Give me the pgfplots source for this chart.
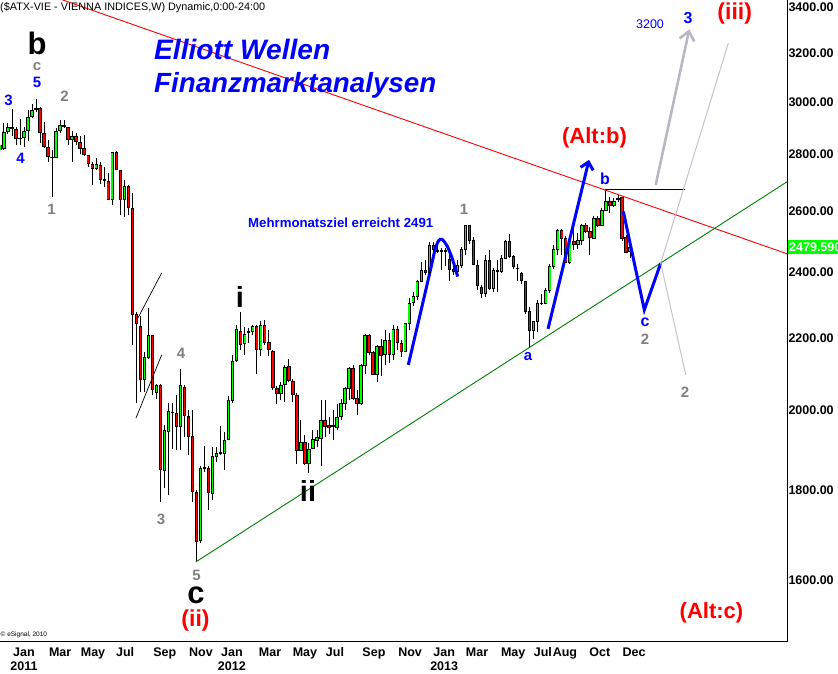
\documentclass[border=0pt]{standalone}
\usepackage{fontspec}
\setmainfont{Liberation Sans}
\usepackage{pgfplots}
\usepackage{pgfplotstable}
\pgfplotsset{compat=1.18}
\usetikzlibrary{arrows.meta}
\definecolor{eblue}{RGB}{0,0,255}
\definecolor{ered}{RGB}{255,0,0}
\definecolor{egrey}{RGB}{128,128,128}
\definecolor{cgreen}{RGB}{0,255,0}
\definecolor{cred}{RGB}{255,0,0}
\definecolor{tgreen}{RGB}{0,128,0}
\definecolor{lgrey}{RGB}{200,192,210}
\definecolor{agrey}{RGB}{188,182,196}
\newcommand\fs[1]{\fontsize{#1}{#1}\selectfont}
\pgfplotstableread{
w o h l c
-6 2818 2848 2810 2836
-5 2824 2918 2818 2884
-4 2889 2918 2877 2903
-3 2900 2974 2871 2902
-2 2896 2905 2836 2862
-1 2862 2934 2836 2863
0 2864 2905 2830 2889
1 2890 2970 2852 2940
2 2944 2992 2938 2970
3 2973 3012 2963 2975
4 2977 2980 2842 2884
5 2880 2922 2826 2830
6 2827 2855 2775 2793
7 2790 2818 2650 2792
8 2791 2900 2790 2889
9 2890 2931 2880 2911
10 2908 2931 2900 2910
11 2903 2905 2836 2858
12 2858 2887 2775 2869
13 2869 2880 2836 2851
14 2846 2871 2801 2824
15 2822 2873 2796 2801
16 2797 2799 2756 2768
17 2766 2775 2691 2750
18 2750 2787 2745 2765
19 2762 2775 2694 2711
20 2710 2756 2685 2708
21 2705 2733 2638 2641
22 2641 2811 2621 2808
23 2808 2813 2745 2745
24 2742 2745 2587 2641
25 2641 2709 2578 2687
26 2687 2690 2587 2611
27 2609 2664 2180 2271
28 2271 2275 2020 2243
29 2235 2263 2050 2084
30 2084 2161 2050 2144
31 2145 2288 2140 2207
32 2207 2209 2040 2055
33 2047 2070 2030 2066
34 2066 2070 1774 1851
35 1849 1962 1805 1949
36 1945 2020 1789 1997
37 1995 2020 1900 1996
38 1993 2041 1899 1958
39 1958 2111 1899 2066
40 2062 2068 1932 1988
41 1985 2001 1886 1934
42 1934 2001 1774 1797
43 1795 1800 1639 1683
44 1685 1859 1680 1853
45 1854 1909 1845 1856
46 1853 1859 1754 1795
47 1793 1907 1778 1882
48 1882 1907 1870 1890
49 1890 1960 1886 1892
50 1891 1945 1849 1924
51 1926 2038 1924 2026
52 2027 2150 2020 2134
53 2136 2237 2131 2225
54 2220 2277 2166 2182
55 2184 2233 2152 2210
56 2216 2230 2185 2218
57 2220 2239 2210 2234
58 2234 2239 2097 2166
59 2166 2250 2148 2236
60 2236 2252 2181 2188
61 2186 2223 2148 2166
62 2163 2166 2055 2063
63 2059 2064 2018 2045
64 2045 2077 2027 2068
65 2070 2122 2022 2118
66 2120 2140 2075 2080
67 2077 2084 2022 2043
68 2040 2045 1864 1897
69 1897 1975 1895 1919
70 1919 1937 1862 1866
71 1866 1915 1841 1900
72 1903 1949 1900 1926
73 1924 1949 1905 1930
74 1928 2028 1859 1975
75 1975 2028 1932 1959
76 1960 1983 1940 1957
77 1958 2001 1924 1960
78 1957 2018 1949 1983
79 1985 2030 1975 2018
80 2020 2063 2001 2060
81 2060 2118 2028 2113
82 2113 2122 2028 2032
83 2032 2055 1988 2019
84 2019 2125 2015 2122
85 2122 2211 2099 2209
86 2209 2212 2150 2160
87 2159 2162 2094 2096
88 2096 2181 2077 2176
89 2176 2197 2093 2150
90 2152 2223 2122 2194
91 2194 2215 2130 2152
92 2152 2237 2137 2225
93 2225 2235 2166 2186
94 2184 2194 2145 2163
95 2163 2244 2162 2243
96 2243 2319 2223 2303
97 2305 2337 2294 2324
98 2324 2375 2313 2370
99 2370 2430 2368 2404
100 2404 2438 2390 2398
101 2400 2497 2397 2485
102 2485 2497 2438 2472
103 2470 2490 2460 2466
104 2467 2477 2406 2468
105 2466 2475 2420 2470
106 2440 2454 2372 2408
107 2408 2422 2390 2401
108 2401 2438 2390 2422
109 2422 2480 2412 2472
110 2472 2553 2454 2551
111 2551 2553 2490 2502
112 2502 2513 2422 2425
113 2422 2438 2344 2357
114 2353 2360 2320 2332
115 2332 2454 2322 2438
116 2438 2470 2344 2350
117 2350 2413 2338 2406
118 2404 2438 2338 2403
119 2401 2455 2395 2443
120 2443 2503 2440 2499
121 2499 2522 2443 2448
122 2448 2454 2410 2419
123 2412 2425 2370 2410
124 2395 2400 2363 2372
125 2370 2372 2270 2277
126 2277 2290 2172 2223
127 2223 2250 2197 2248
128 2248 2313 2218 2303
129 2303 2332 2298 2304
130 2303 2350 2300 2341
131 2341 2425 2335 2417
132 2417 2485 2410 2473
133 2473 2540 2455 2536
134 2536 2540 2455 2508
135 2508 2515 2428 2430
136 2430 2503 2425 2497
137 2497 2545 2470 2488
138 2488 2527 2473 2503
139 2503 2557 2485 2551
140 2551 2559 2525 2533
141 2531 2545 2455 2513
142 2508 2582 2505 2575
143 2575 2582 2545 2551
144 2551 2610 2548 2604
145 2604 2673 2600 2635
146 2635 2650 2593 2621
147 2621 2645 2615 2635
148 2640 2655 2632 2643
149 2646 2650 2500 2508
150 2510 2520 2460 2463
151 2465 2490 2443 2479.59
}\candles
\begin{document}
\begin{tikzpicture}
\useasboundingbox (0,0) rectangle (838pt,673pt);
\begin{axis}[
  at={(0pt,31.3pt)}, anchor=south west, scale only axis,
  width=787.3pt, height=641.7pt,
  xmin=-5.98, xmax=190.2,
  ymode=log, ymin=1475.2, ymax=3432.8,
  axis x line*=bottom, axis y line*=right,
  axis line style={black, line width=1pt, -},
  xtick={0,9,17.2,25.2,35.1,44.1,51.8,61.3,70,77.5,87.2,96.2,104.7,112.9,121.9,129.3,134.8,143.5,152},
  xticklabels={{Jan\\2011},Mar,May,Jul,Sep,Nov,{Jan\\2012},Mar,May,Jul,Sep,Nov,{Jan\\2013},Mar,May,Jul,Aug,Oct,Dec},
  ytick={1600,1800,2000,2200,2400,2600,2800,3000,3200,3400},
  yticklabels={1600.00,1800.00,2000.00,2200.00,2400.00,2600.00,2800.00,3000.00,3200.00,3400.00},
  tick style={draw=none},
  x tick label style={font=\fontsize{12.5}{14.5}\selectfont\bfseries, align=center, anchor=north, inner sep=0pt, yshift=-6pt},
  y tick label style={font=\fs{12.5}\bfseries, anchor=west, inner sep=0pt, xshift=1pt},
  clip=true,
]
% wicks
\addplot[draw=none, mark=none, forget plot,
  error bars/.cd, y dir=plus, y explicit, error mark=none,
  error bar style={draw=black, line width=0.9pt, solid}]
  table[x=w, y=l, y error expr=\thisrow{h}-\thisrow{l}] {\candles};
% bodies: black frame
\addplot[draw=none, mark=none, forget plot,
  x filter/.expression={\thisrow{c}>=\thisrow{o} ? x : nan},
  error bars/.cd, y dir=plus, y explicit, error mark=none,
  error bar style={draw=black, line width=3.4pt, solid, line cap=butt}]
  table[x=w, y=o, y error expr=\thisrow{c}-\thisrow{o}] {\candles};
\addplot[draw=none, mark=none, forget plot,
  x filter/.expression={\thisrow{c}<\thisrow{o} ? x : nan},
  error bars/.cd, y dir=plus, y explicit, error mark=none,
  error bar style={draw=black, line width=3.4pt, solid, line cap=butt}]
  table[x=w, y=c, y error expr=\thisrow{o}-\thisrow{c}] {\candles};
% bodies: colour
\addplot[draw=none, mark=none, forget plot,
  x filter/.expression={\thisrow{c}>=\thisrow{o} ? x : nan},
  error bars/.cd, y dir=plus, y explicit, error mark=none,
  error bar style={draw=cgreen, line width=1.6pt, solid, line cap=butt}]
  table[x=w, y=o, y error expr=\thisrow{c}-\thisrow{o}] {\candles};
\addplot[draw=none, mark=none, forget plot,
  x filter/.expression={\thisrow{c}<\thisrow{o} ? x : nan},
  error bars/.cd, y dir=plus, y explicit, error mark=none,
  error bar style={draw=cred, line width=1.6pt, solid, line cap=butt}]
  table[x=w, y=c, y error expr=\thisrow{o}-\thisrow{c}] {\candles};
% open / close caps
\addplot[only marks, mark=-, mark size=1.7pt, mark options={draw=black, line width=0.6pt}, forget plot]
  table[x=w, y=o] {\candles};
\addplot[only marks, mark=-, mark size=1.7pt, mark options={draw=black, line width=0.6pt}, forget plot]
  table[x=w, y=c] {\candles};
% trend lines
\addplot[ered, line width=0.9pt, forget plot] coordinates {(-5.98,3533.6) (190.2,2457.3)};
\addplot[tgreen, line width=0.9pt, forget plot] coordinates {(42.86,1638.7) (190.2,2702.6)};
\addplot[black, line width=0.7pt, forget plot] coordinates {(27.91,1980.3) (34.31,2151.6)};
\addplot[black, line width=0.7pt, forget plot] coordinates {(28.41,2258.9) (34.31,2396.7)};
\addplot[black, line width=1pt, forget plot] coordinates {(144.78,2675.8) (164.71,2675.8)};
% blue wave paths
\addplot[eblue, line width=3pt, smooth, forget plot] coordinates {
  (95.76,2123.4) (98.68,2267.9) (101.17,2399.9) (102.42,2470.3) (103.3,2500) (104.16,2504.8) (105.41,2483.4) (106.65,2444.4) (108.07,2385.1)};
\addplot[eblue, line width=3pt, forget plot, -{Straight Barb[length=7pt,width=13pt]}] coordinates {(130.58,2226.5) (140.79,2781.0)};
\addplot[eblue, line width=3pt, forget plot] coordinates {(149.34,2598.2) (154.57,2282.8) (158.66,2427.4)};
% grey projections
\addplot[lgrey, line width=1pt, forget plot] coordinates {(175.50,3242.7) (158.66,2427.4) (164.89,2095.7)};
\addplot[agrey, line width=2.6pt, forget plot, -{Straight Barb[length=9pt,width=15pt]}] coordinates {(157.41,2691.0) (165.78,3302.9)};
\end{axis}
\begin{scope}[x=1pt, y=-1pt, shift={(0pt,673pt)}]
\node[anchor=west, inner sep=0pt] at (0,7.5) {\resizebox{265pt}{!}{\fs{12}(\$ATX-VIE - VIENNA INDICES,W) Dynamic,0:00-24:00}};
\node[anchor=base west, inner sep=0pt, text=eblue] at (154,60) {\resizebox{176pt}{!}{\fs{26}\bfseries\itshape Elliott Wellen}};
\node[anchor=base west, inner sep=0pt, text=eblue] at (154,93) {\resizebox{282pt}{!}{\fs{26}\bfseries\itshape Finanzmarktanalysen}};
\node[anchor=west, inner sep=0pt, text=eblue] at (248,223) {\resizebox{185pt}{!}{\fs{13}\bfseries Mehrmonatsziel erreicht 2491}};
\tikzset{lab/.style={inner sep=0pt, font=\fs{15}\bfseries}}
\node[anchor=base, inner sep=0pt, font=\fs{31}\bfseries] at (37,55) {b};
\node[lab, text=egrey] at (37,66.5) {c};
\node[lab, text=eblue] at (37,82.5) {5};
\node[lab, text=eblue] at (8.5,100) {3};
\node[lab, text=egrey] at (64.5,96.5) {2};
\node[lab, text=eblue] at (20.5,158) {4};
\node[lab, text=egrey] at (51.5,209.5) {1};
\node[inner sep=0pt, font=\fs{29}\bfseries] at (240,296.5) {i};
\node[lab, text=egrey] at (181,353.5) {4};
\node[lab, text=egrey] at (161,519) {3};
\node[lab, text=egrey] at (196.5,575) {5};
\node[anchor=base, inner sep=0pt, font=\fs{31}\bfseries] at (196,603) {c};
\node[inner sep=0pt, font=\fs{23}\bfseries, text=ered] at (195.5,620.5) {(ii)};
\node[inner sep=0pt, font=\fs{29}\bfseries] at (308,491) {ii};
\node[lab, text=egrey] at (464,209.5) {1};
\node[lab, text=eblue] at (528,357) {a};
\node[inner sep=0pt, font=\fs{22}\bfseries, text=ered] at (594.5,137.5) {(Alt:b)};
\node[lab, font=\fs{16}\bfseries, text=eblue] at (605,179) {b};
\node[lab, font=\fs{16}\bfseries, text=eblue] at (645,322.5) {c};
\node[lab, text=egrey] at (645,339) {2};
\node[lab, text=egrey] at (685,392.5) {2};
\node[inner sep=0pt, font=\fs{12.5}, text=eblue] at (650,24) {3200};
\node[lab, font=\fs{16}\bfseries, text=eblue] at (688,18) {3};
\node[inner sep=0pt, font=\fs{23}\bfseries, text=ered] at (734.7,14) {(iii)};
\node[inner sep=0pt, font=\fs{22}\bfseries, text=ered] at (711.5,612.5) {(Alt:c)};
\node[anchor=west, inner sep=0pt, font=\fs{6.5}] at (0.5,634.5) {\textcopyright\ eSignal, 2010};
\node[anchor=west, inner sep=1pt, fill=cgreen, text=white, font=\fs{12.5}\bfseries, minimum height=14pt] at (788,247.3) {2479.590};
\end{scope}
\end{tikzpicture}
\end{document}
